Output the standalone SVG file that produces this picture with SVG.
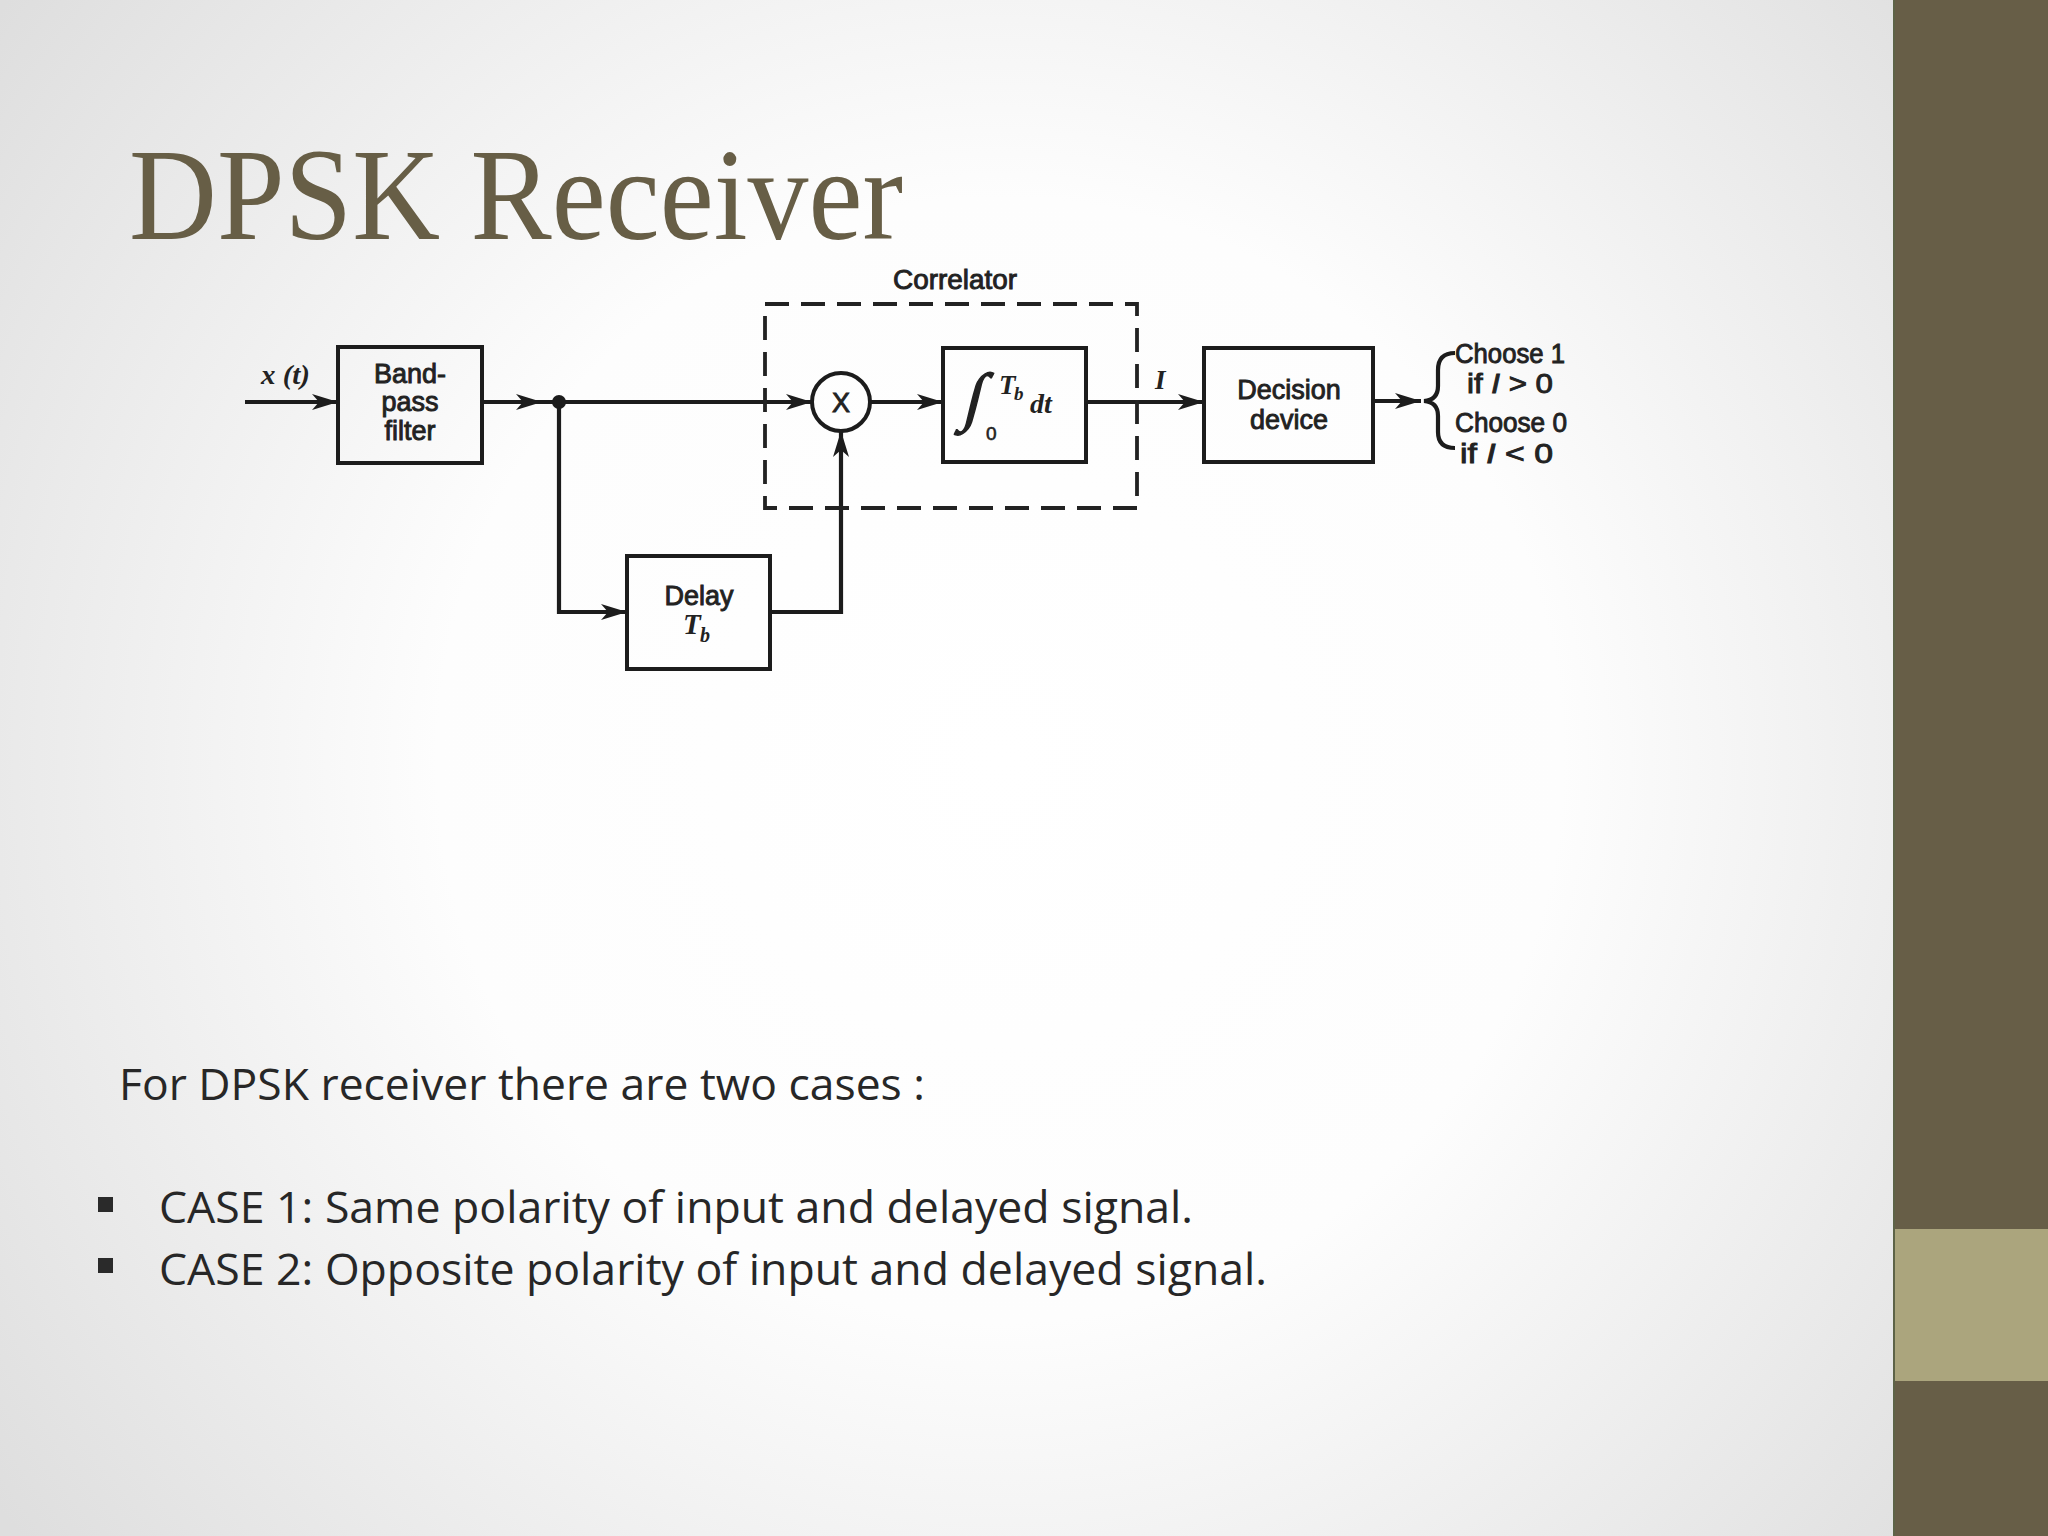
<svg xmlns="http://www.w3.org/2000/svg" width="2048" height="1536" viewBox="0 0 2048 1536">
  <defs>
    <radialGradient id="bg" gradientUnits="userSpaceOnUse" cx="1000" cy="760" r="1250">
      <stop offset="0" stop-color="#ffffff"/>
      <stop offset="0.45" stop-color="#fdfdfd"/>
      <stop offset="1" stop-color="#dedede"/>
    </radialGradient>
    <marker id="arr" markerUnits="userSpaceOnUse" markerWidth="28" markerHeight="20" refX="26" refY="10" orient="auto">
      <path d="M0,2 L26,10 L0,18 L7,10 z" fill="#1c1c1c"/>
    </marker>
    <style>
      .ln { fill: none; stroke: #1c1c1c; stroke-width: 4.2; }
      .box { fill: none; stroke: #1c1c1c; stroke-width: 4; }
      .dash { fill: none; stroke: #222; stroke-width: 3.8; stroke-dasharray: 24 12; }
      .lbl { font-family: "Liberation Sans", Arial, sans-serif; font-size: 27px; fill: #222; stroke: #222; stroke-width: 0.9; }
      .it { font-family: "Liberation Serif", "Times New Roman", serif; font-style: italic; font-weight: bold; fill: #222; }
      .body { font-family: "Open Sans", "Noto Sans", sans-serif; font-size: 44px; fill: #272727; }
    </style>
  </defs>

  <rect width="2048" height="1536" fill="url(#bg)"/>

  <!-- side bar -->
  <rect x="1894" y="0" width="154" height="1536" fill="#675e47"/>
  <rect x="1894" y="1229" width="154" height="152" fill="#aba57d"/>
  <rect x="1893" y="0" width="2" height="1536" fill="#5d6347"/>

  <!-- title -->
  <text x="129" y="239" font-family="'Liberation Serif', 'Times New Roman', serif" font-size="132" fill="#675e46" textLength="774" lengthAdjust="spacingAndGlyphs">DPSK Receiver</text>

  <!-- connectors -->
  <g id="connectors">
    <path class="ln" d="M245,402 L338,402" marker-end="url(#arr)"/>
    <path class="ln" d="M482,402 L542,402" marker-end="url(#arr)"/>
    <path class="ln" d="M540,402 L812,402" marker-end="url(#arr)"/>
    <circle cx="559" cy="402" r="7" fill="#1c1c1c"/>
    <path class="ln" d="M559,402 L559,612 L627,612" marker-end="url(#arr)"/>
    <path class="ln" d="M770,612 L841,612 L841,431" marker-end="url(#arr)"/>
    <path class="ln" d="M870,402 L943,402" marker-end="url(#arr)"/>
    <path class="ln" d="M1086,402 L1204,402" marker-end="url(#arr)"/>
    <path class="ln" d="M1373,401 L1421,401" marker-end="url(#arr)"/>
    <text class="it" x="261" y="384" font-size="28" textLength="49" lengthAdjust="spacingAndGlyphs">x (t)</text>
    <text class="it" x="1155" y="389" font-size="27">I</text>
  </g>

  <!-- correlator group -->
  <g id="correlator">
    <rect class="dash" x="765" y="304" width="372" height="204"/>
    <text class="lbl" x="955" y="289" text-anchor="middle" textLength="124" lengthAdjust="spacingAndGlyphs">Correlator</text>
  </g>

  <g id="bandpass">
    <rect class="box" x="338" y="347" width="144" height="116"/>
    <text class="lbl" x="410" y="383" text-anchor="middle">Band-</text>
    <text class="lbl" x="410" y="411" text-anchor="middle">pass</text>
    <text class="lbl" x="410" y="440" text-anchor="middle">filter</text>
  </g>

  <g id="multiplier">
    <circle class="box" cx="841" cy="402" r="29"/>
    <text class="lbl" x="841" y="412" text-anchor="middle" font-size="28">X</text>
  </g>

  <g id="integrator">
    <rect class="box" x="943" y="348" width="143" height="114"/>
    <text x="966" y="418" font-family="'Liberation Serif', serif" font-style="italic" font-size="64" fill="#222" stroke="#222" stroke-width="1.5" transform="skewX(-14) translate(100,0)" >∫</text>
    <text class="it" x="999" y="394" font-size="27">T</text>
    <text class="it" x="1014" y="400" font-size="19">b</text>
    <text x="986" y="440" font-family="'Liberation Sans', sans-serif" font-size="19" fill="#222" stroke="#222" stroke-width="0.6">0</text>
    <text class="it" x="1030" y="413" font-size="28">dt</text>
  </g>

  <g id="decision">
    <rect class="box" x="1204" y="348" width="169" height="114"/>
    <text class="lbl" x="1289" y="399" text-anchor="middle">Decision</text>
    <text class="lbl" x="1289" y="429" text-anchor="middle">device</text>
  </g>

  <g id="delay">
    <rect class="box" x="627" y="556" width="143" height="113"/>
    <text class="lbl" x="699" y="605" text-anchor="middle">Delay</text>
    <text class="it" x="683" y="634" font-size="29">T</text>
    <text class="it" x="700" y="642" font-size="20">b</text>
  </g>

  <g id="outputs">
    <path class="ln" stroke-width="3.5" d="M1455,353 Q1438,353 1438,370 L1438,386 Q1438,400 1424,401 Q1438,402 1438,416 L1438,432 Q1438,448 1455,448"/>
    <text class="lbl" x="1455" y="363" font-size="24" textLength="110" lengthAdjust="spacingAndGlyphs">Choose 1</text>
    <text class="lbl" x="1467" y="393" font-size="24" textLength="86" lengthAdjust="spacingAndGlyphs">if <tspan font-style="italic">I</tspan> &gt; 0</text>
    <text class="lbl" x="1455" y="432" font-size="24" textLength="112" lengthAdjust="spacingAndGlyphs">Choose 0</text>
    <text class="lbl" x="1460" y="463" font-size="24" textLength="93" lengthAdjust="spacingAndGlyphs">if <tspan font-style="italic">I</tspan> &lt; 0</text>
  </g>

  <!-- body text -->
  <text class="body" x="119" y="1100" textLength="806" lengthAdjust="spacingAndGlyphs">For DPSK receiver there are two cases :</text>
  <rect x="98" y="1197" width="15" height="15" fill="#2a2a2a"/>
  <text class="body" x="159" y="1223" textLength="1034" lengthAdjust="spacingAndGlyphs">CASE 1: Same polarity of input and delayed signal.</text>
  <rect x="98" y="1258" width="15" height="15" fill="#2a2a2a"/>
  <text class="body" x="159" y="1285" textLength="1108" lengthAdjust="spacingAndGlyphs">CASE 2: Opposite polarity of input and delayed signal.</text>
</svg>
